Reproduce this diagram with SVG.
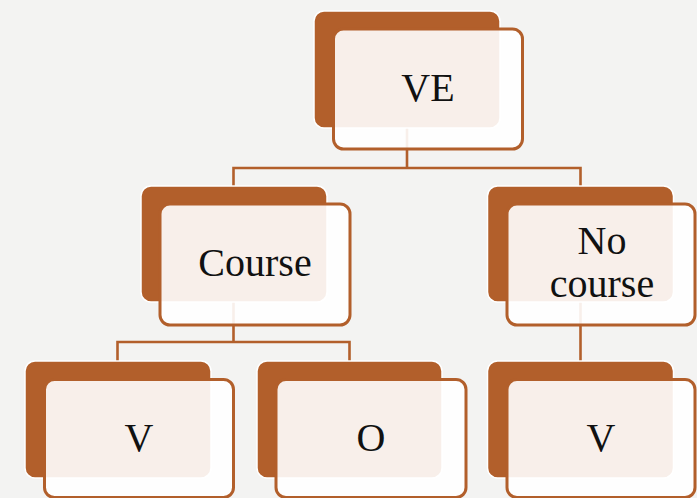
<svg xmlns="http://www.w3.org/2000/svg" width="697" height="498" viewBox="0 0 697 498">
  <style>
    .back { fill: #b25f2b; stroke: #ffffff; stroke-width: 1.5; }
    .front { fill: #ffffff; fill-opacity: 0.9; stroke: #b25f2b; stroke-width: 3; }
    .link { fill: none; stroke: #b25f2b; stroke-width: 2.6; }
    .label { font-family: "Liberation Serif", "Times New Roman", serif; font-size: 40px; fill: #111111; text-anchor: middle; }
  </style>
  <rect width="697" height="498" fill="#f3f3f2"/>

  <!-- tree connectors -->
  <g id="connectors">
    <path class="link" d="M407,128 V168 M233.5,168 H580.5 M233.5,166.7 V186 M580.5,166.7 V186"/>
    <path class="link" d="M233.5,302 V342 M117.5,342 H349.5 M117.5,340.7 V361 M349.5,340.7 V361"/>
    <path class="link" d="M580.5,302 V361"/>
  </g>

  <g id="node-ve">
    <rect class="back" x="314" y="11" width="186" height="117" rx="10"/>
    <rect class="front" x="333.5" y="29" width="189" height="120" rx="10"/>
    <text class="label" x="428" y="101">VE</text>
  </g>

  <g id="node-course">
    <rect class="back" x="141" y="186" width="186" height="116" rx="10"/>
    <rect class="front" x="160" y="204" width="190" height="121" rx="10"/>
    <text class="label" x="255" y="276">Course</text>
  </g>

  <g id="node-no-course">
    <rect class="back" x="487.5" y="186" width="186" height="116" rx="10"/>
    <rect class="front" x="507" y="204" width="188" height="121" rx="10"/>
    <text class="label" x="602" y="254">No</text>
    <text class="label" x="602" y="297">course</text>
  </g>

  <g id="node-v-left">
    <rect class="back" x="25" y="361" width="186" height="117" rx="10"/>
    <rect class="front" x="44.5" y="379.5" width="189" height="118" rx="10"/>
    <text class="label" x="139" y="451">V</text>
  </g>

  <g id="node-o">
    <rect class="back" x="257" y="361" width="185" height="117" rx="10"/>
    <rect class="front" x="276" y="379.5" width="190" height="118" rx="10"/>
    <text class="label" x="371" y="451">O</text>
  </g>

  <g id="node-v-right">
    <rect class="back" x="487.5" y="361" width="186" height="117" rx="10"/>
    <rect class="front" x="507" y="379.5" width="188" height="118" rx="10"/>
    <text class="label" x="601" y="451">V</text>
  </g>
</svg>
